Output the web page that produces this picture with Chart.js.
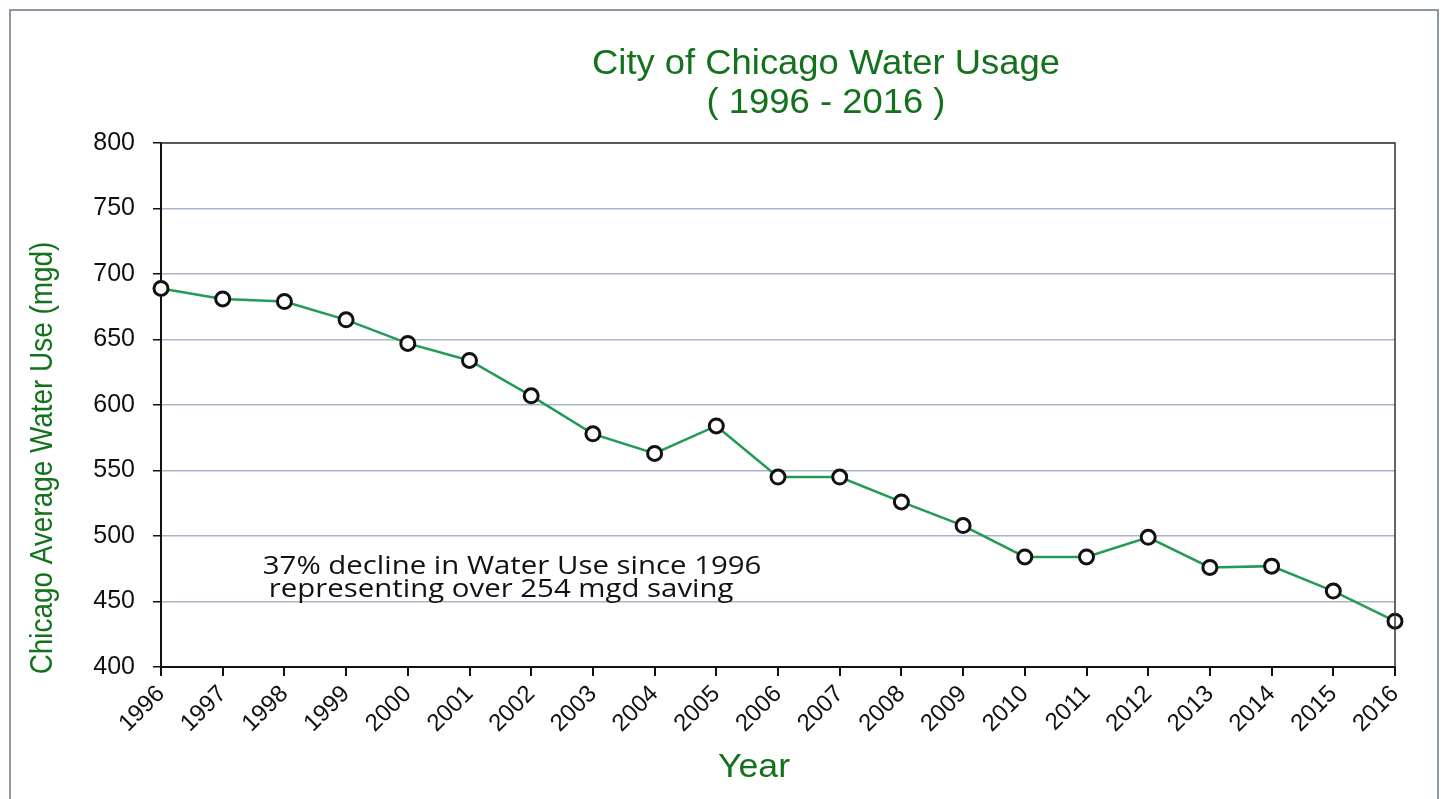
<!DOCTYPE html>
<html>
<head>
<meta charset="utf-8">
<script src="https://cdn.jsdelivr.net/npm/chart.js@4.4.1/dist/chart.umd.min.js"></script>
<style>
  html, body { margin: 0; padding: 0; background: #fff; }
  #wrap { position: relative; width: 1447px; height: 799px; overflow: hidden; }
  #frame { position: absolute; left: 9px; top: 9px; width: 1430px; height: 820px;
           border: 2px solid #8d97a8; box-sizing: border-box; pointer-events: none; }
  canvas { position: absolute; left: 0; top: 0; }
</style>
</head>
<body>
<div id="wrap">
  <canvas id="chart" width="1447" height="799"></canvas>
  <div id="frame"></div>
</div>
<script>
// ---------- data ----------
const years = ["1996", "1997", "1998", "1999", "2000", "2001", "2002", "2003", "2004", "2005", "2006",
               "2007", "2008", "2009", "2010", "2011", "2012", "2013", "2014", "2015", "2016"];
const waterUse = [689, 681, 679, 665, 647, 634, 607, 578, 563, 584, 545,
                  545, 526, 508, 484, 484, 499, 476, 477, 458, 435];

const titleLines = ["City of Chicago Water Usage", "( 1996 - 2016 )"];
const yTitle = "Chicago Average Water Use (mgd)";
const xTitle = "Year";
const noteLines = ["37% decline in Water Use since 1996", "representing over 254 mgd saving"];

const GREEN = "#13721c";
const SANS = "'Liberation Sans', Arial, sans-serif";

// draw text squeezed/stretched along its baseline
function fillScaled(ctx, text, x, y, sx) {
  ctx.save();
  ctx.translate(x, y);
  ctx.scale(sx, 1);
  ctx.fillText(text, 0, 0);
  ctx.restore();
}

// ---------- plugin: titles, plot border, note ----------
const decorPlugin = {
  id: "decor",
  afterDraw(chart) {
    const { ctx, chartArea: a, scales } = chart;
    const cx = (a.left + a.right) / 2;
    ctx.save();

    // box around plot (top + right)
    ctx.strokeStyle = "#333";
    ctx.lineWidth = 1.5;
    ctx.beginPath();
    ctx.moveTo(a.left, a.top);
    ctx.lineTo(a.right, a.top);
    ctx.lineTo(a.right, a.bottom);
    ctx.stroke();

    // main title
    ctx.fillStyle = GREEN;
    ctx.textAlign = "center";
    ctx.textBaseline = "middle";
    ctx.font = "35px " + SANS;
    fillScaled(ctx, titleLines[0], cx + 48, 64, 1.04);
    fillScaled(ctx, titleLines[1], cx + 48, 103, 1.04);

    // x title
    ctx.font = "34px " + SANS;
    fillScaled(ctx, xTitle, cx - 24, 768, 1.05);

    // y title (tall, condensed)
    ctx.save();
    ctx.translate(43, (a.top + a.bottom) / 2 + 53);
    ctx.rotate(-Math.PI / 2);
    ctx.font = "31px " + SANS;
    fillScaled(ctx, yTitle, 0, 0, 0.9);
    ctx.restore();

    // annotation
    const x0 = scales.x.getPixelForValue(1.65);
    ctx.fillStyle = "#111";
    ctx.textAlign = "left";
    ctx.font = "26px 'Open Sans', 'Noto Sans', sans-serif";
    fillScaled(ctx, noteLines[0], x0, scales.y.getPixelForValue(477), 1.13);
    fillScaled(ctx, noteLines[1], x0 + 6, scales.y.getPixelForValue(459), 1.13);

    ctx.restore();
  }
};

// ---------- chart ----------
new Chart(document.getElementById("chart"), {
  type: "line",
  data: {
    labels: years,
    datasets: [{
      data: waterUse,
      borderColor: "#239a55",
      borderWidth: 2.5,
      pointRadius: 7,
      pointBorderWidth: 3,
      pointBorderColor: "#111",
      pointBackgroundColor: "#fff",
      tension: 0
    }]
  },
  options: {
    responsive: false,
    animation: false,
    layout: { padding: { left: 0, right: 52, top: 143, bottom: 0 } },
    plugins: { legend: { display: false }, tooltip: { enabled: false } },
    scales: {
      x: {
        offset: false,
        grid: { drawOnChartArea: false, tickLength: 9, tickColor: "#111", lineWidth: 2 },
        border: { color: "#111", width: 2 },
        ticks: {
          color: "#111", maxRotation: 45, minRotation: 45, padding: 4, autoSkip: false,
          font: { family: SANS, size: 24 }
        },
        afterFit(scale) { scale.height = 132; }
      },
      y: {
        min: 400, max: 800,
        ticks: {
          stepSize: 50, color: "#111", padding: 18,
          font: { family: SANS, size: 25 }
        },
        grid: { color: "#a9b5c6", lineWidth: 1.5, tickLength: 8, tickColor: "#111" },
        border: { color: "#111", width: 2 },
        afterFit(scale) { scale.width = 161; }
      }
    }
  },
  plugins: [decorPlugin]
});
</script>
</body>
</html>
